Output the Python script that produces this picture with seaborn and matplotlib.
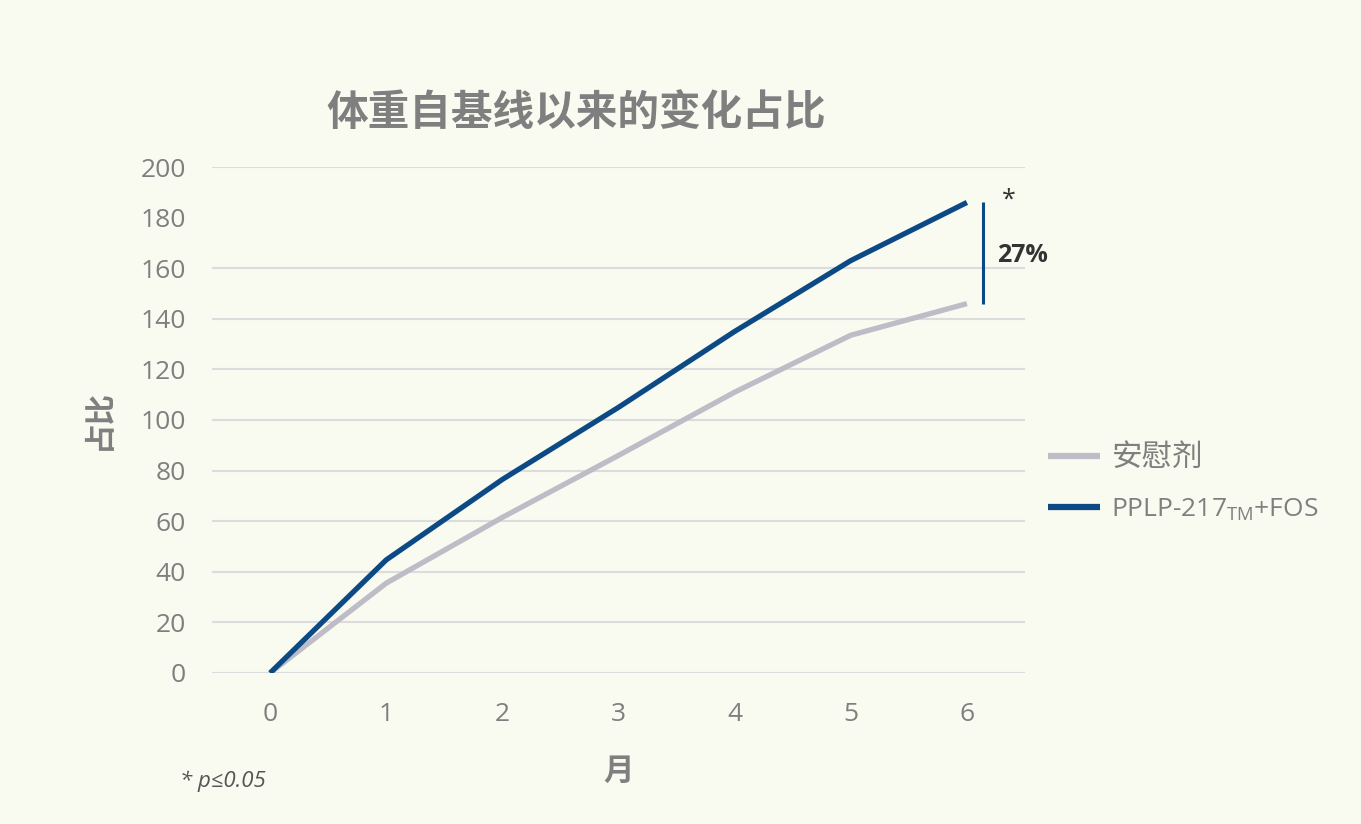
import matplotlib
matplotlib.use("Agg")
import matplotlib.pyplot as plt
import seaborn as sns
import pandas as pd

# 数据
months = [0, 1, 2, 3, 4, 5, 6]
placebo = [0, 35.5, 61.5, 86, 111, 133.5, 146]
treat = [0, 44.7, 76.5, 105, 135, 163, 186]
series_names = ["安慰剂", "PPLP-217$_{\\mathrm{TM}}$+FOS"]
y_ticks = [0, 20, 40, 60, 80, 100, 120, 140, 160, 180, 200]

bg = "#F9FAF0"
navy = "#0C4A85"
grey_line = "#BDBCC7"
txt = "#7F7F7F"

sns.set_theme(style="white")
plt.rcParams["font.family"] = ["Open Sans", "Noto Sans CJK SC", "DejaVu Sans"]
plt.rcParams["mathtext.fontset"] = "custom"
plt.rcParams["mathtext.rm"] = "Open Sans"

df = pd.DataFrame({
    "月": months * 2,
    "占比": placebo + treat,
    "组": [series_names[0]] * len(months) + [series_names[1]] * len(months),
})

fig = plt.figure(figsize=(13.61, 8.24), dpi=100, facecolor=bg)
ax = fig.add_axes([0.1558, 0.1833, 0.7531 - 0.1558, 0.7973 - 0.1833])
ax.set_facecolor(bg)

sns.lineplot(data=df, x="月", y="占比", hue="组", palette=[grey_line, navy],
             linewidth=3.8, ax=ax, legend=True, zorder=3)
for ln in ax.lines:
    ln.set_solid_capstyle("butt")

ax.set_xlim(-0.5, 6.5)
ax.set_ylim(0, 200)
ax.set_yticks(y_ticks)
ax.set_xticks(months)
ax.grid(axis="y", color="#DCDCDC", linewidth=1.5)
ax.grid(axis="x", visible=False)
ax.yaxis.get_gridlines()[9].set_visible(False)
for s in ax.spines.values():
    s.set_visible(False)
ax.tick_params(axis="both", length=0, labelsize=19, labelcolor=txt)
ax.tick_params(axis="y", pad=19)
ax.tick_params(axis="x", pad=21)

ax.set_xlabel("月", fontsize=22, fontweight="bold", color=txt,
              family=["Noto Sans CJK SC"], labelpad=20)
ax.set_ylabel("占比", fontsize=22, fontweight="bold", color=txt,
              family=["Noto Sans CJK SC"], labelpad=18)

# 差异括线
ax.vlines(6.14, placebo[-1], treat[-1], color=navy, linewidth=2.2, clip_on=False)
ax.text(6.36, 187, "*", fontsize=18, color="#333333", ha="center", va="center",
        clip_on=False)
ax.text(6.26, 165, "27%", fontsize=18, fontweight="bold", color="#333333",
        ha="left", va="center", clip_on=False)

leg = ax.legend(loc="center left", bbox_to_anchor=(0.997, 0.375), frameon=False,
                fontsize=20, handlelength=1.9, handletextpad=0.4,
                labelspacing=0.85, labelcolor=txt)
for h in leg.get_lines():
    h.set_linewidth(4.5)
texts = leg.get_texts()
texts[0].set_fontsize(22)
texts[1].set_fontsize(19)
for t in texts:
    t.set_family(["Open Sans", "Noto Sans CJK SC"])

fig.text(576 / 1361, 1 - 113 / 824, "体重自基线以来的变化占比", fontsize=30,
         fontweight="heavy", color=txt, ha="center", va="center",
         family=["Noto Sans CJK SC"])
fig.text(180 / 1361, 1 - 781 / 824, "* p≤0.05", fontsize=16, style="italic",
         color="#555555", ha="left", va="center")

fig.savefig("out.png", dpi=100, facecolor=bg)
